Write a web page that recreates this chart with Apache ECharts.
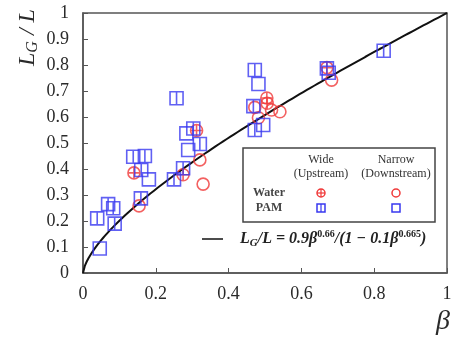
<!DOCTYPE html>
<html>
<head>
<meta charset="utf-8">
<script src="https://cdn.jsdelivr.net/npm/echarts@6/dist/echarts.min.js"></script>
<style>
  html, body { margin: 0; padding: 0; background: #fff; }
  #container { width: 466px; height: 344px; }
</style>
</head>
<body>
<div id="container"></div>
<script>
// [beta, LG/L]
const wideWater = [
    [0.14, 0.385], [0.275, 0.378], [0.312, 0.548], [0.505, 0.673],
    [0.506, 0.653], [0.67, 0.79]
];
const narrowWater = [
    [0.154, 0.258], [0.321, 0.435], [0.33, 0.342], [0.472, 0.637],
    [0.482, 0.597], [0.518, 0.627], [0.541, 0.62], [0.683, 0.742]
];
const widePAM = [
    [0.039, 0.21], [0.069, 0.265], [0.083, 0.249], [0.087, 0.19],
    [0.138, 0.447], [0.17, 0.45], [0.16, 0.396], [0.159, 0.287],
    [0.25, 0.36], [0.275, 0.403], [0.257, 0.672], [0.303, 0.556],
    [0.321, 0.496], [0.472, 0.781], [0.468, 0.642], [0.472, 0.55],
    [0.67, 0.787], [0.826, 0.855]
];
const narrowPAM = [
    [0.046, 0.094], [0.181, 0.36], [0.284, 0.537], [0.289, 0.473],
    [0.482, 0.727], [0.495, 0.569], [0.675, 0.77]
];

// fitted relation printed on the figure: LG/L = a*b^p / (1 - c*b^q)
const fitA = 0.9, fitP = 0.66, fitC = 0.1, fitQ = 0.665;
const fitBetas = [];
for (let i = 0; i <= 200; i++) fitBetas.push(i / 200);
const fitLine = fitBetas.map(b => [b, fitA * Math.pow(b, fitP) / (1 - fitC * Math.pow(b, fitQ))]);

const RED = '#f03a3a';
const BLUE = '#3838f0';
const SERIF = '"Liberation Serif", "DejaVu Serif", serif';

const sqBar = 'path://M0,0H10V10H0ZM5,0V10';
const circCross = 'path://M10,5A5,5,0,1,1,0,5A5,5,0,1,1,10,5ZM5,0V10M0,5H10';

let myChart = echarts.init(document.getElementById('container'));

function markers(name, data, symbol, color, size) {
    return {
        type: 'scatter',
        name: name,
        data: data,
        symbol: symbol,
        symbolSize: size,
        itemStyle: { color: 'rgba(0,0,0,0)', borderColor: color, borderWidth: 1.6 },
        z: 3
    };
}

let option = {
    animation: false,
    backgroundColor: '#fff',
    grid: {
        left: 83, right: 19, top: 13, bottom: 71,
        show: true, borderColor: '#555', borderWidth: 1.5
    },
    xAxis: {
        type: 'value', min: 0, max: 1, interval: 0.2,
        axisLine: { show: true, lineStyle: { color: '#555', width: 1.5 } },
        axisTick: { show: true, inside: true, length: 5, lineStyle: { color: '#555' } },
        splitLine: { show: false },
        axisLabel: {
            fontFamily: SERIF, fontSize: 18, color: '#2a2a2a', margin: 12,
            formatter: v => String(+v.toFixed(1))
        }
    },
    yAxis: {
        type: 'value', min: 0, max: 1, interval: 0.1,
        axisLine: { show: true, lineStyle: { color: '#555', width: 1.5 } },
        axisTick: { show: true, inside: true, length: 5, lineStyle: { color: '#555' } },
        splitLine: { show: false },
        axisLabel: {
            fontFamily: SERIF, fontSize: 18, color: '#2a2a2a', margin: 14,
            formatter: v => String(+v.toFixed(1))
        }
    },
    series: [
        {
            type: 'line', data: fitLine, showSymbol: false,
            lineStyle: { color: '#111', width: 2 }, z: 2, silent: true
        },
        markers('Water wide', wideWater, circCross, RED, 12),
        markers('Water narrow', narrowWater, 'circle', RED, 12),
        markers('PAM wide', widePAM, sqBar, BLUE, 13),
        markers('PAM narrow', narrowPAM, 'rect', BLUE, 13)
    ],
    graphic: [
        {
            type: 'text', x: 15, y: 66, rotation: Math.PI / 2, z: 10,
            style: {
                text: '{i|L}{s|G}{i| / L}',
                rich: {
                    i: { fontFamily: SERIF, fontStyle: 'italic', fontSize: 24, fill: '#2a2a2a' },
                    s: { fontFamily: SERIF, fontStyle: 'italic', fontSize: 16, fill: '#2a2a2a', padding: [10, 0, 0, 0] }
                }
            }
        },
        {
            type: 'text', x: 436, y: 308, z: 10,
            style: { text: 'β', fontFamily: SERIF, fontStyle: 'italic', fontSize: 28, fill: '#2a2a2a' }
        },
        // legend box
        {
            type: 'rect', z: 10,
            shape: { x: 243, y: 148, width: 192, height: 74 },
            style: { fill: '#fff', stroke: '#444', lineWidth: 1.5 }
        },
        { type: 'text', z: 11, x: 321, y: 160, style: { text: 'Wide', fontFamily: SERIF, fontSize: 12, fill: '#333', align: 'center', verticalAlign: 'middle' } },
        { type: 'text', z: 11, x: 321, y: 174, style: { text: '(Upstream)', fontFamily: SERIF, fontSize: 12, fill: '#333', align: 'center', verticalAlign: 'middle' } },
        { type: 'text', z: 11, x: 396, y: 160, style: { text: 'Narrow', fontFamily: SERIF, fontSize: 12, fill: '#333', align: 'center', verticalAlign: 'middle' } },
        { type: 'text', z: 11, x: 396, y: 174, style: { text: '(Downstream)', fontFamily: SERIF, fontSize: 12, fill: '#333', align: 'center', verticalAlign: 'middle' } },
        { type: 'text', z: 11, x: 269, y: 193, style: { text: 'Water', fontFamily: SERIF, fontSize: 12, fontWeight: 'bold', fill: '#444', align: 'center', verticalAlign: 'middle' } },
        { type: 'text', z: 11, x: 269, y: 208, style: { text: 'PAM', fontFamily: SERIF, fontSize: 12, fontWeight: 'bold', fill: '#444', align: 'center', verticalAlign: 'middle' } },
        { type: 'circle', z: 11, shape: { cx: 321, cy: 193, r: 4 }, style: { fill: 'none', stroke: RED, lineWidth: 1.5 } },
        { type: 'line', z: 11, shape: { x1: 321, y1: 189, x2: 321, y2: 197 }, style: { stroke: RED, lineWidth: 1.2 } },
        { type: 'line', z: 11, shape: { x1: 317, y1: 193, x2: 325, y2: 193 }, style: { stroke: RED, lineWidth: 1.2 } },
        { type: 'circle', z: 11, shape: { cx: 396, cy: 193, r: 4 }, style: { fill: 'none', stroke: RED, lineWidth: 1.5 } },
        { type: 'rect', z: 11, shape: { x: 317, y: 204, width: 8, height: 8 }, style: { fill: 'none', stroke: BLUE, lineWidth: 1.5 } },
        { type: 'line', z: 11, shape: { x1: 321, y1: 204, x2: 321, y2: 212 }, style: { stroke: BLUE, lineWidth: 1.2 } },
        { type: 'rect', z: 11, shape: { x: 392, y: 204, width: 8, height: 8 }, style: { fill: 'none', stroke: BLUE, lineWidth: 1.5 } },
        // fitted line key
        { type: 'line', z: 11, shape: { x1: 202, y1: 239, x2: 223, y2: 239 }, style: { stroke: '#111', lineWidth: 1.5 } },
        {
            type: 'text', z: 11, x: 240, y: 239,
            style: {
                text: '{b|L}{sub|G}{b|/L = 0.9β}{sup|0.66}{b|/(1 − 0.1β}{sup|0.665}{b|)}',
                verticalAlign: 'middle',
                rich: {
                    b: { fontFamily: SERIF, fontStyle: 'italic', fontWeight: 'bold', fontSize: 16, fill: '#222' },
                    sub: { fontFamily: SERIF, fontStyle: 'italic', fontWeight: 'bold', fontSize: 11, fill: '#222', padding: [8, 0, 0, 0] },
                    sup: { fontFamily: SERIF, fontWeight: 'bold', fontSize: 10, fill: '#222', padding: [0, 0, 9, 0] }
                }
            }
        }
    ]
};
myChart.setOption(option);
</script>
</body>
</html>
